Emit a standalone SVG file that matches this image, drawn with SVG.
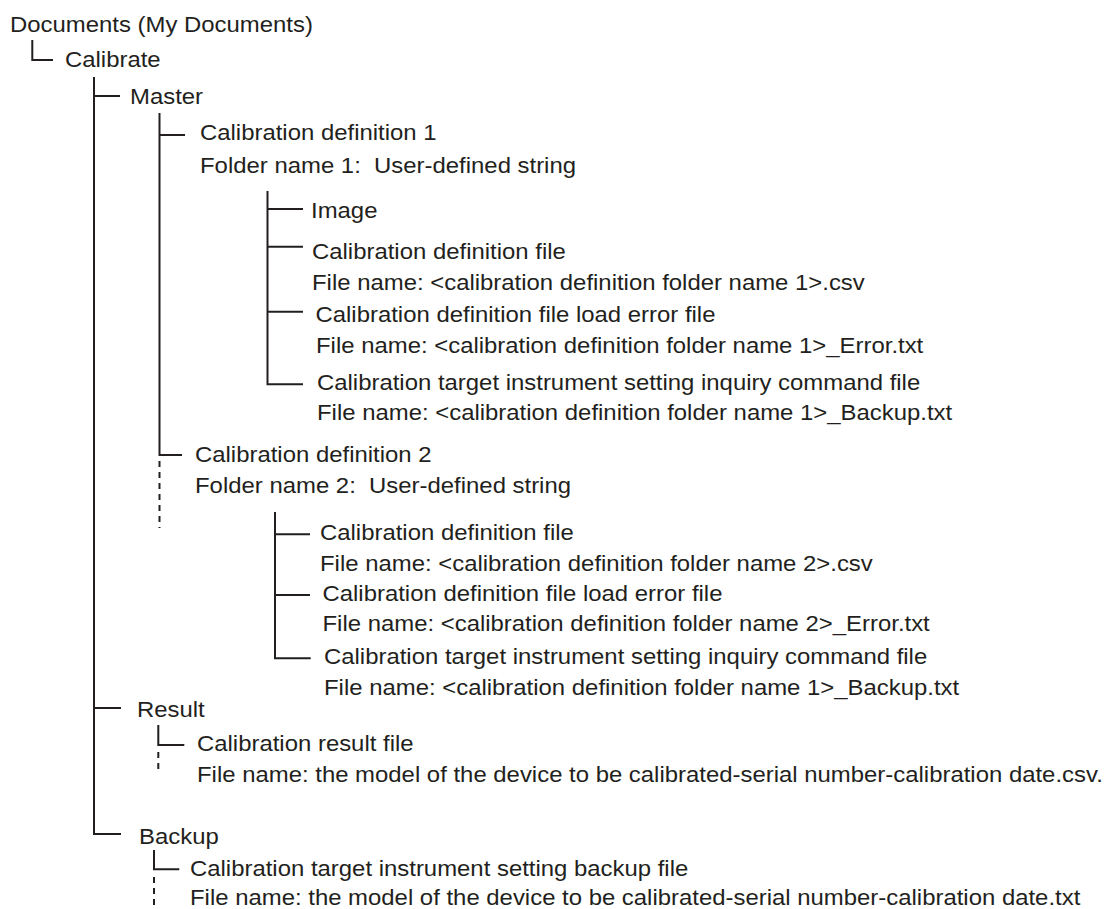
<svg xmlns="http://www.w3.org/2000/svg" width="1117" height="909" viewBox="0 0 1117 909">
<style>
.t{font-family:"Liberation Sans",Arial,sans-serif;font-size:22px;fill:#231f20}
.c{fill:none;stroke:#231f20;stroke-width:2}
.d{fill:none;stroke:#231f20;stroke-width:2;stroke-dasharray:6 5}
</style>
<rect width="1117" height="909" fill="#ffffff"/>
<g id="connectors">
<path class="c" d="M32.3,40 V60 H53"/>
<path class="c" d="M94,77 V834 H121"/>
<path class="c" d="M94,96 H120"/>
<path class="c" d="M94,708 H121"/>
<path class="c" d="M159.5,113 V455 H182"/>
<path class="d" d="M159.5,461 V528"/>
<path class="c" d="M159.5,135 H185"/>
<path class="c" d="M267.5,191 V384.3 H303"/>
<path class="c" d="M267.5,209 H303"/>
<path class="c" d="M267.5,246.7 H303"/>
<path class="c" d="M267.5,311.7 H303"/>
<path class="c" d="M275,512 V658.3 H310.7"/>
<path class="c" d="M275,534.3 H310"/>
<path class="c" d="M275,595 H310"/>
<path class="c" d="M158.3,725 V745 H184.3"/>
<path class="d" d="M158.3,752 V774"/>
<path class="c" d="M154,850 V869.3 H179.3"/>
<path class="d" d="M154,877 V909"/>
</g>
<g id="documents"><text class="t" transform="translate(10,32) scale(1.087,1)">Documents (My Documents)</text></g>
<g id="calibrate"><text class="t" transform="translate(65,67) scale(1.087,1)">Calibrate</text></g>
<g id="master"><text class="t" transform="translate(130,104) scale(1.087,1)">Master</text></g>
<g id="caldef1">
<text class="t" transform="translate(200,140) scale(1.087,1)">Calibration definition 1</text>
<text class="t" transform="translate(200,173) scale(1.087,1)" xml:space="preserve">Folder name 1:  User-defined string</text>
</g>
<g id="image1"><text class="t" transform="translate(311,218) scale(1.087,1)">Image</text></g>
<g id="cdf1">
<text class="t" transform="translate(312,259) scale(1.087,1)">Calibration definition file</text>
<text class="t" transform="translate(312,290) scale(1.087,1)">File name: &lt;calibration definition folder name 1&gt;.csv</text>
</g>
<g id="cdfle1">
<text class="t" transform="translate(315.5,322) scale(1.087,1)">Calibration definition file load error file</text>
<text class="t" transform="translate(316,353) scale(1.087,1)">File name: &lt;calibration definition folder name 1&gt;_Error.txt</text>
</g>
<g id="cti1">
<text class="t" transform="translate(317,390) scale(1.087,1)">Calibration target instrument setting inquiry command file</text>
<text class="t" transform="translate(317,420) scale(1.087,1)">File name: &lt;calibration definition folder name 1&gt;_Backup.txt</text>
</g>
<g id="caldef2">
<text class="t" transform="translate(195,462) scale(1.087,1)">Calibration definition 2</text>
<text class="t" transform="translate(195,493) scale(1.087,1)" xml:space="preserve">Folder name 2:  User-defined string</text>
</g>
<g id="cdf2">
<text class="t" transform="translate(320,540) scale(1.087,1)">Calibration definition file</text>
<text class="t" transform="translate(320,571) scale(1.087,1)">File name: &lt;calibration definition folder name 2&gt;.csv</text>
</g>
<g id="cdfle2">
<text class="t" transform="translate(322.5,601) scale(1.087,1)">Calibration definition file load error file</text>
<text class="t" transform="translate(322.5,631) scale(1.087,1)">File name: &lt;calibration definition folder name 2&gt;_Error.txt</text>
</g>
<g id="cti2">
<text class="t" transform="translate(324,664) scale(1.087,1)">Calibration target instrument setting inquiry command file</text>
<text class="t" transform="translate(324,695) scale(1.087,1)">File name: &lt;calibration definition folder name 1&gt;_Backup.txt</text>
</g>
<g id="result"><text class="t" transform="translate(137,717) scale(1.087,1)">Result</text></g>
<g id="resultfile">
<text class="t" transform="translate(197,751) scale(1.087,1)">Calibration result file</text>
<text class="t" transform="translate(197,782) scale(1.087,1)">File name: the model of the device to be calibrated-serial number-calibration date.csv.</text>
</g>
<g id="backup"><text class="t" transform="translate(139,844) scale(1.087,1)">Backup</text></g>
<g id="backupfile">
<text class="t" transform="translate(190,876) scale(1.087,1)">Calibration target instrument setting backup file</text>
<text class="t" transform="translate(190,905) scale(1.087,1)">File name: the model of the device to be calibrated-serial number-calibration date.txt</text>
</g>
</svg>
